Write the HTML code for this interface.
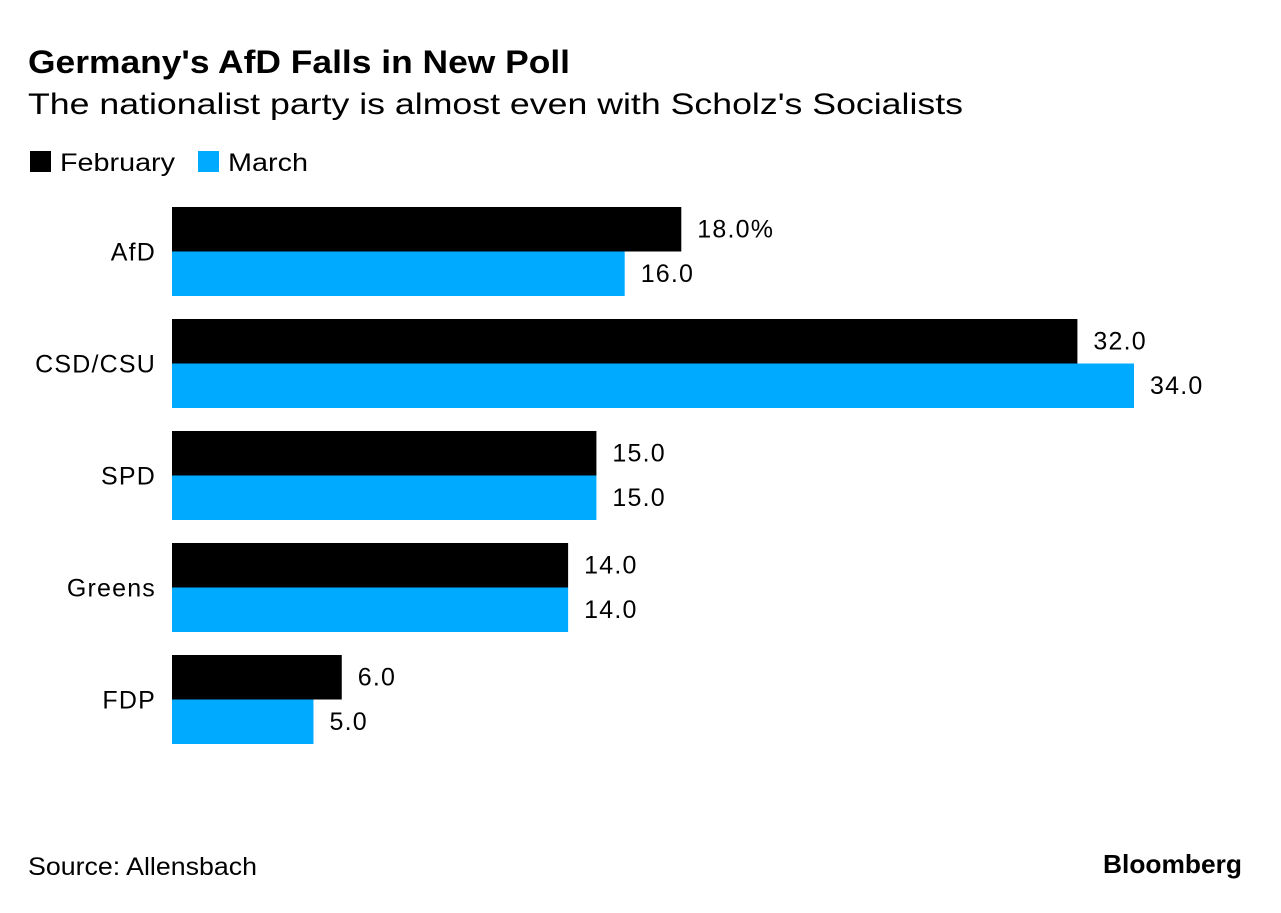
<!DOCTYPE html>
<html><head><meta charset="utf-8"><style>
body{margin:0;background:#fff;width:1281px;height:908px;overflow:hidden;font-family:"Liberation Sans",Arial,sans-serif;}
svg text{font-family:"Liberation Sans",Arial,sans-serif;}
</style></head><body>
<svg width="1281" height="908">
<text x="28" y="73" font-size="32" font-weight="bold" fill="#000" textLength="542" lengthAdjust="spacingAndGlyphs">Germany's AfD Falls in New Poll</text>
<text x="28" y="114" font-size="30" fill="#000" textLength="935" lengthAdjust="spacingAndGlyphs">The nationalist party is almost even with Scholz's Socialists</text>
<g>
<rect x="30" y="151" width="21" height="21" fill="#000"/>
<text x="60" y="171" font-size="25" textLength="115" lengthAdjust="spacingAndGlyphs">February</text>
<rect x="198" y="151" width="21" height="21" fill="#00aaff"/>
<text x="228" y="171" font-size="25" textLength="80" lengthAdjust="spacingAndGlyphs">March</text>
</g>
<g id="bars"></g>
<text x="28" y="875" font-size="25" textLength="229" lengthAdjust="spacingAndGlyphs">Source: Allensbach</text>
<text x="1242" y="873" font-size="26" font-weight="bold" text-anchor="end" textLength="139" lengthAdjust="spacingAndGlyphs">Bloomberg</text>
</svg>
<script>
const categories=["AfD","CSD/CSU","SPD","Greens","FDP"];
const february=[18,32,15,14,6];
const march=[16,34,15,14,5];
const x0=172, pxPer=962/34, top0=207, pitch=112, bh=44.5;
const xs=v=>x0+v*pxPer;
const g=document.getElementById('bars');
const NS="http://www.w3.org/2000/svg";
function mk(tag,attrs){const e=document.createElementNS(NS,tag);for(const k in attrs)e.setAttribute(k,attrs[k]);return e;}
categories.forEach((c,i)=>{
  const y=top0+i*pitch;
  const lab=mk('text',{x:156,y:y+bh+9,'font-size':25,'text-anchor':'end','letter-spacing':'1.2'});
  lab.textContent=c;
  
  
  g.appendChild(lab);
  [[february,'#000',0],[march,'#00aaff',1]].forEach(([arr,col,j])=>{
    const by=y+j*bh;
    const r=mk('rect',{x:x0,y:by,width:xs(arr[i])-x0,height:bh,fill:col});
    
    
    g.appendChild(r);
    const t=mk('text',{x:xs(arr[i])+16,y:by+bh/2+8,'font-size':25,'letter-spacing':'1.2'});
    t.textContent=arr[i].toFixed(1)+(i===0&&j===0?'%':'');
    
    
    g.appendChild(t);
  });
});
</script>
</body></html>
